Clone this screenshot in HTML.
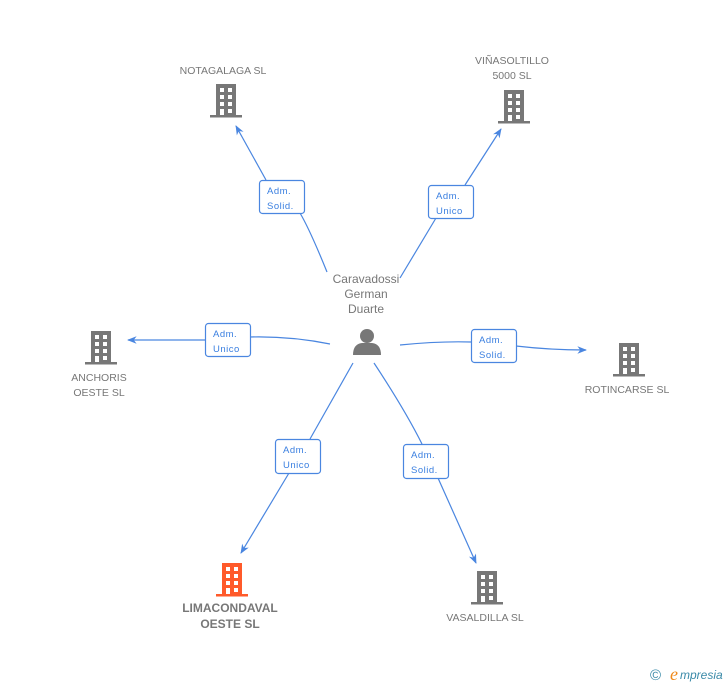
<!DOCTYPE html>
<html><head><meta charset="utf-8"><style>
body{margin:0;background:#fff;width:728px;height:685px;overflow:hidden}
svg{display:block}
text{font-family:"Liberation Sans",sans-serif}
.n{font-size:10.5px;fill:#777}
.l{font-size:9.5px;fill:#3a7fe0;letter-spacing:0.5px}
.e{stroke:#4a86e0;stroke-width:1.2;fill:none}
.b{fill:#fff;stroke:#4a86e0;stroke-width:1.2}
</style></head><body>
<svg width="728" height="685" viewBox="0 0 728 685">
<defs>
<marker id="a" viewBox="0 0 10 10" refX="9" refY="5" markerWidth="8" markerHeight="8" orient="auto-start-reverse"><path d="M0,1 L10,5 L0,9 L3,5 z" fill="#4a86e0"/></marker>
<g id="bld">
<rect x="-10" y="0" width="20" height="31"/>
<rect x="-16" y="31" width="32" height="2.5"/>
<g fill="#fff">
<rect x="-6" y="4" width="4" height="4"/><rect x="2" y="4" width="4" height="4"/>
<rect x="-6" y="11" width="4" height="4"/><rect x="2" y="11" width="4" height="4"/>
<rect x="-6" y="18" width="4" height="4"/><rect x="2" y="18" width="4" height="4"/>
<rect x="-6" y="25" width="4" height="6"/><rect x="2" y="25" width="4" height="4"/>
</g>
</g>
</defs>
<path class="e" d="M327,272 Q310,230 300,213"/><path class="e" d="M266,180 L236,126" marker-end="url(#a)"/>
<path class="e" d="M400,278 L436,218"/><path class="e" d="M465,185 L501,129" marker-end="url(#a)"/>
<path class="e" d="M330,344 Q290,336 250,337"/><path class="e" d="M205,340 L128,340" marker-end="url(#a)"/>
<path class="e" d="M400,345 Q440,341 471,342"/><path class="e" d="M516,346 Q550,350 586,350" marker-end="url(#a)"/>
<path class="e" d="M353,363 L310,439"/><path class="e" d="M289,473 L241,553" marker-end="url(#a)"/>
<path class="e" d="M374,363 Q405,410 422,444"/><path class="e" d="M438,478 L476,563" marker-end="url(#a)"/>
<rect class="b" x="259.5" y="180.5" width="45" height="33" rx="3"/><text class="l" x="267" y="194">Adm.</text><text class="l" x="267" y="209">Solid.</text>
<rect class="b" x="428.5" y="185.5" width="45" height="33" rx="3"/><text class="l" x="436" y="199">Adm.</text><text class="l" x="436" y="214">Unico</text>
<rect class="b" x="205.5" y="323.5" width="45" height="33" rx="3"/><text class="l" x="213" y="337">Adm.</text><text class="l" x="213" y="352">Unico</text>
<rect class="b" x="471.5" y="329.5" width="45" height="33" rx="3"/><text class="l" x="479" y="343">Adm.</text><text class="l" x="479" y="358">Solid.</text>
<rect class="b" x="275.5" y="439.5" width="45" height="34" rx="3"/><text class="l" x="283" y="453">Adm.</text><text class="l" x="283" y="468">Unico</text>
<rect class="b" x="403.5" y="444.5" width="45" height="34" rx="3"/><text class="l" x="411" y="458">Adm.</text><text class="l" x="411" y="473">Solid.</text>
<use href="#bld" x="226" y="84" fill="#777"/>
<use href="#bld" x="514" y="90" fill="#777"/>
<use href="#bld" x="101" y="331" fill="#777"/>
<use href="#bld" x="629" y="343" fill="#777"/>
<use href="#bld" x="232" y="563" fill="#ff5a2a"/>
<use href="#bld" x="487" y="571" fill="#777"/>
<circle cx="367" cy="336" r="7" fill="#777"/>
<path d="M353,355 Q353,344 362,343 L372,343 Q381,344 381,355 z" fill="#777"/>
<text class="n" x="223" y="74" text-anchor="middle">NOTAGALAGA SL</text>
<text class="n" x="512" y="64" text-anchor="middle">VIÑASOLTILLO</text>
<text class="n" x="512" y="79" text-anchor="middle">5000 SL</text>
<text class="n" x="366" y="283" text-anchor="middle" style="font-size:12px">Caravadossi</text>
<text class="n" x="366" y="298" text-anchor="middle" style="font-size:12px">German</text>
<text class="n" x="366" y="313" text-anchor="middle" style="font-size:12px">Duarte</text>
<text class="n" x="99" y="381" text-anchor="middle">ANCHORIS</text>
<text class="n" x="99" y="396" text-anchor="middle">OESTE SL</text>
<text class="n" x="627" y="393" text-anchor="middle">ROTINCARSE SL</text>
<text class="n" x="230" y="612" text-anchor="middle" style="font-weight:bold;font-size:12px">LIMACONDAVAL</text>
<text class="n" x="230" y="628" text-anchor="middle" style="font-weight:bold;font-size:12px">OESTE SL</text>
<text class="n" x="485" y="621" text-anchor="middle">VASALDILLA SL</text>
<text x="650" y="680" style="font-size:15px;fill:#3a8aa8">©</text>
<text x="670" y="680" style="font-size:18px;fill:#f08a1c;font-style:italic;font-family:'Liberation Serif',serif">e</text>
<text x="680" y="679" style="font-size:12px;fill:#3a8aa8;font-style:italic">mpresia</text>
</svg>
</body></html>
